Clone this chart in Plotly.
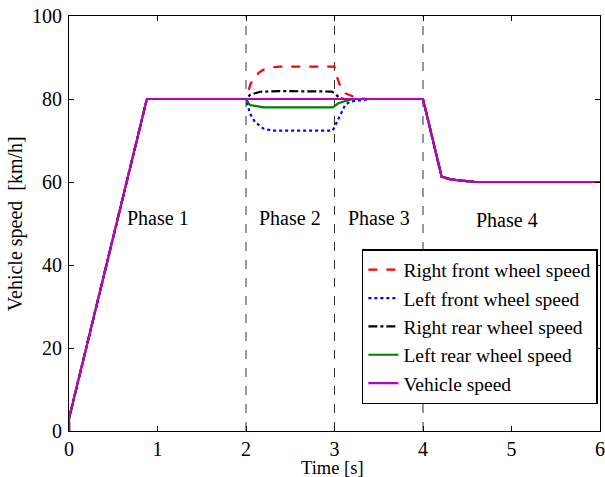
import plotly.graph_objects as go

# ---------------- data ----------------
veh_t = [0.0, 0.0, 0.88, 4.0, 4.21, 4.3, 4.4, 4.6, 6.0]
veh_v = [0.0, 3.0, 80.0, 80.0, 61.3, 60.7, 60.4, 60.0, 60.0]

rf_t = [0.0, 0.0, 0.88, 2.0, 2.05, 2.1, 2.15, 2.2, 2.28, 2.38, 3.0, 3.02, 3.06, 3.12, 3.21, 3.29, 3.4, 4.0, 4.21, 4.3, 4.4, 4.6, 6.0]
rf_v = [0.0, 3.0, 80.0, 80.0, 83.6, 85.4, 86.4, 87.1, 87.6, 87.8, 87.8, 85.8, 83.4, 81.4, 80.6, 80.15, 80.0, 80.0, 61.3, 60.7, 60.4, 60.0, 60.0]

lf_t = [0.0, 0.0, 0.88, 2.0, 2.045, 2.1, 2.195, 2.29, 2.98, 3.06, 3.12, 3.175, 3.29, 3.4, 4.0, 4.21, 4.3, 4.4, 4.6, 6.0]
lf_v = [0.0, 3.0, 80.0, 80.0, 76.5, 74.5, 72.9, 72.4, 72.4, 75.7, 78.55, 79.35, 79.7, 80.0, 80.0, 61.3, 60.7, 60.4, 60.0, 60.0]

rr_t = [0.0, 0.0, 0.88, 2.0, 2.045, 2.16, 2.38, 2.97, 3.02, 3.06, 3.12, 4.0, 4.21, 4.3, 4.4, 4.6, 6.0]
rr_v = [0.0, 3.0, 80.0, 80.0, 81.0, 81.75, 81.9, 81.8, 81.0, 80.2, 80.0, 80.0, 61.3, 60.7, 60.4, 60.0, 60.0]

lr_t = [0.0, 0.0, 0.88, 2.0, 2.045, 2.195, 2.98, 3.04, 3.12, 3.21, 4.0, 4.21, 4.3, 4.4, 4.6, 6.0]
lr_v = [0.0, 3.0, 80.0, 80.0, 78.55, 78.0, 78.0, 78.9, 79.5, 80.0, 80.0, 61.3, 60.7, 60.4, 60.0, 60.0]

phase_labels = ["Phase 1", "Phase 2", "Phase 3", "Phase 4"]
phase_x = [1.0, 2.5, 3.5, 4.95]
phase_y = [51.3, 51.3, 51.3, 50.8]
boundaries = [2, 3, 4]

x_ticks = [0, 1, 2, 3, 4, 5, 6]
y_ticks = [0, 20, 40, 60, 80, 100]

FONT = "Liberation Serif, Times New Roman, serif"

fig = go.Figure()
series = [
    ("Right front wheel speed", rf_t, rf_v, "#ff0000", "dash"),
    ("Left front wheel speed", lf_t, lf_v, "#0000ff", "dot"),
    ("Right rear wheel speed", rr_t, rr_v, "#000000", "dashdot"),
    ("Left rear wheel speed", lr_t, lr_v, "#008000", "solid"),
    ("Vehicle speed", veh_t, veh_v, "#bf00bf", "solid"),
]
for name, t, v, c, d in series:
    fig.add_trace(go.Scatter(x=t, y=v, mode="lines", name=name,
                             line=dict(color=c, dash=d, width=2.2)))

for b in boundaries:
    fig.add_shape(type="line", x0=b, x1=b, y0=0, y1=100, xref="x", yref="y",
                  line=dict(color="#333333", width=1, dash="dash"), layer="below")

for lab, px, py in zip(phase_labels, phase_x, phase_y):
    fig.add_annotation(x=px, y=py, text=lab, showarrow=False,
                       font=dict(family=FONT, size=20, color="black"))

fig.add_annotation(x=0.497, y=-0.089, xref="paper", yref="paper", text="Time [s]",
                   showarrow=False, yanchor="middle", font=dict(family=FONT, size=18.5, color="black"))
fig.add_annotation(x=-0.075, y=0.5, xref="paper", yref="paper", text="Vehicle speed  [km/h]",
                   showarrow=False, textangle=-90, xanchor="right",
                   font=dict(family=FONT, size=20, color="black"))

axis_common = dict(showline=True, linecolor="black", linewidth=1, mirror="ticks",
                   ticks="inside", ticklen=5, tickcolor="black", showgrid=False,
                   zeroline=False, automargin=False,
                   tickfont=dict(family=FONT, size=20, color="black"))
fig.update_xaxes(range=[0, 6], tickvals=x_ticks, **axis_common)
fig.update_yaxes(range=[0, 100], tickvals=y_ticks, ticklabelstandoff=2, **axis_common)

fig.update_layout(
    width=605, height=477,
    margin=dict(l=69, r=5, t=16, b=46),
    plot_bgcolor="white", paper_bgcolor="white",
    showlegend=True,
    legend=dict(x=0.996, y=0.065, xanchor="right", yanchor="bottom",
                bgcolor="white", bordercolor="black", borderwidth=1.5,
                font=dict(family=FONT, size=19.5, color="black"),
                tracegroupgap=0),
)

fig.write_html("out.html", config={"displayModeBar": False},
               post_script="document.body.style.margin='0';document.body.style.overflow='hidden';")
